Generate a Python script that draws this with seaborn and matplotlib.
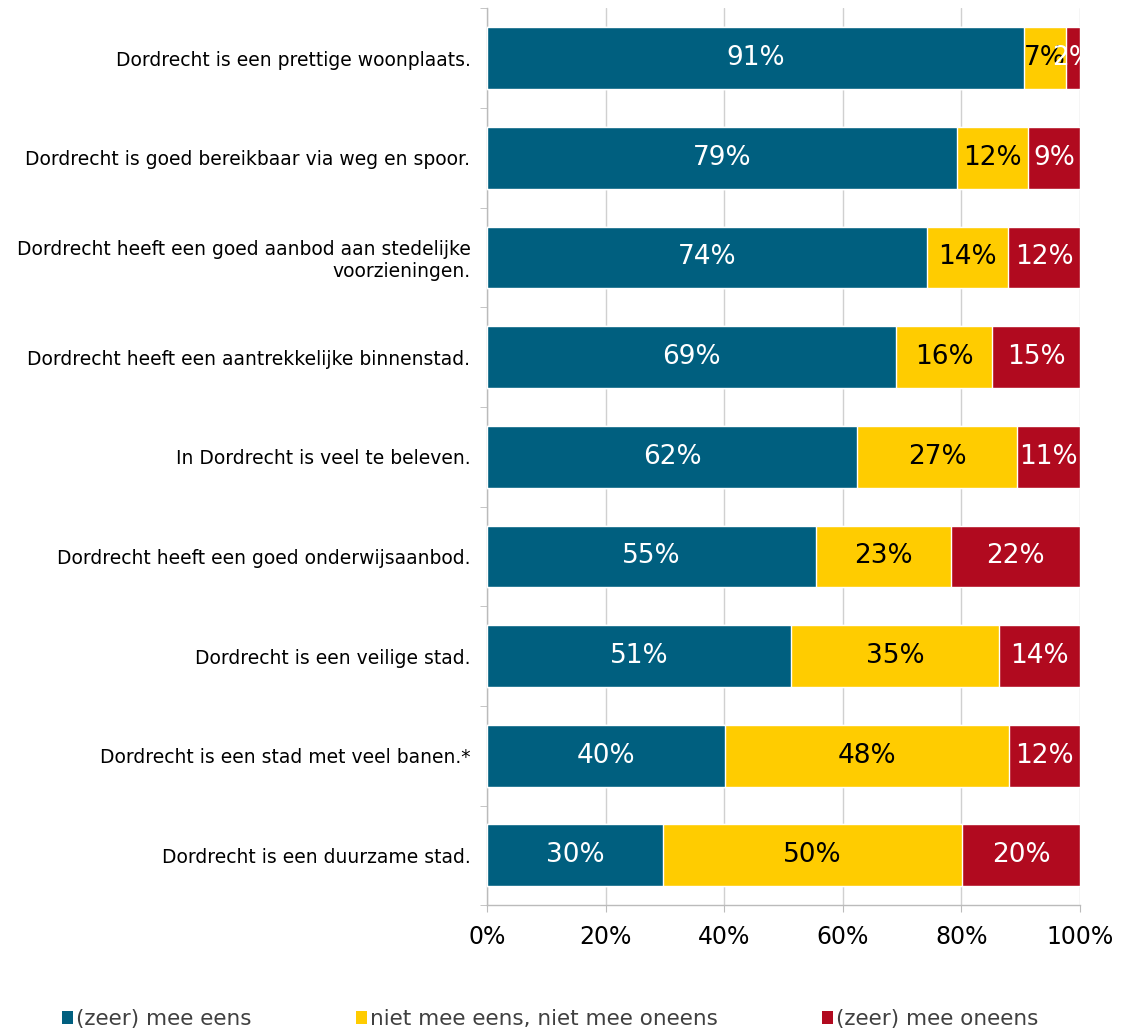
import numpy as np
import pandas as pd
import seaborn as sns
import matplotlib.pyplot as plt
from matplotlib.patches import Patch
from matplotlib.ticker import FixedLocator, PercentFormatter

stellingen = [
    'Dordrecht is een prettige woonplaats.',
    'Dordrecht is goed bereikbaar via weg en spoor.',
    'Dordrecht heeft een goed aanbod aan stedelijke\nvoorzieningen.',
    'Dordrecht heeft een aantrekkelijke binnenstad.',
    'In Dordrecht is veel te beleven.',
    'Dordrecht heeft een goed onderwijsaanbod.',
    'Dordrecht is een veilige stad.',
    'Dordrecht is een stad met veel banen.*',
    'Dordrecht is een duurzame stad.',
]
mee_eens = [90.6, 79.3, 74.2, 69.0, 62.4, 55.4, 51.3, 40.2, 29.7]
neutraal = [7.0, 11.9, 13.7, 16.2, 27.0, 22.8, 35.1, 47.8, 50.4]
oneens = [2.4, 8.8, 12.1, 14.8, 10.6, 21.8, 13.6, 12.0, 19.9]

reeksen = ['(zeer) mee eens', 'niet mee eens, niet mee oneens', '(zeer) mee oneens']
kleuren = ['#005F7F', '#FFCC00', '#B10A1F']
tekstkleur = ['white', 'black', 'white']

df = pd.DataFrame({'stelling': stellingen, 'eens': mee_eens,
                   'neutraal': neutraal, 'oneens': oneens})
df['cum1'] = df['eens']
df['cum2'] = df['eens'] + df['neutraal']
df['cum3'] = df['cum2'] + df['oneens']

sns.set_style('white')
plt.rcParams['font.family'] = ['DejaVu Sans']

fig = plt.figure(figsize=(11.25, 10.31), dpi=100)
ax = fig.add_axes([0.433, 0.122, 0.527, 0.870])

# stacked: draw totals first, then overlay the smaller cumulative parts
for col, kleur in zip(['cum3', 'cum2', 'cum1'], kleuren[::-1]):
    sns.barplot(data=df, x=col, y='stelling', color=kleur, width=0.62,
                saturation=1, ax=ax, zorder=3)

# labels
for i, row in df.iterrows():
    start = 0
    for j, col in enumerate(['eens', 'neutraal', 'oneens']):
        v = row[col]
        ax.text(start + v / 2, i, '%.0f%%' % v, ha='center', va='center',
                fontsize=19, color=tekstkleur[j], zorder=5)
        start += v

ax.set_xlim(0, 100)
ax.set_ylim(len(stellingen) - 0.5, -0.5)
ax.xaxis.set_major_locator(FixedLocator([0, 20, 40, 60, 80, 100]))
ax.xaxis.set_major_formatter(PercentFormatter(decimals=0))
ax.grid(axis='x', color='#D0D0D0', linewidth=1, zorder=0)
ax.set_axisbelow(True)
ax.set_xlabel('')
ax.set_ylabel('')

ax.yaxis.set_minor_locator(FixedLocator(np.arange(-0.5, len(stellingen), 1)))
ax.tick_params(axis='y', which='major', length=0, labelsize=13.5, pad=12,
               labelcolor='black')
ax.tick_params(axis='y', which='minor', left=True, length=5, color='#BBBBBB')
ax.tick_params(axis='x', which='major', bottom=True, length=5, color='#BBBBBB',
               labelsize=17, pad=9, labelcolor='black')

for s in ['top', 'right']:
    ax.spines[s].set_visible(False)
for s in ['left', 'bottom']:
    ax.spines[s].set_color('#BBBBBB')
    ax.spines[s].set_linewidth(1)

handles = [Patch(facecolor=k, edgecolor='none') for k in kleuren]
leg = fig.legend(handles, reeksen, loc='lower left', bbox_to_anchor=(0.038, -0.017),
                 ncol=3, frameon=False, fontsize=15.5, handlelength=0.5,
                 handleheight=0.55, handletextpad=0.15, columnspacing=4.85)
for t in leg.get_texts():
    t.set_color('#404040')

fig.savefig('out.png', dpi=100)
